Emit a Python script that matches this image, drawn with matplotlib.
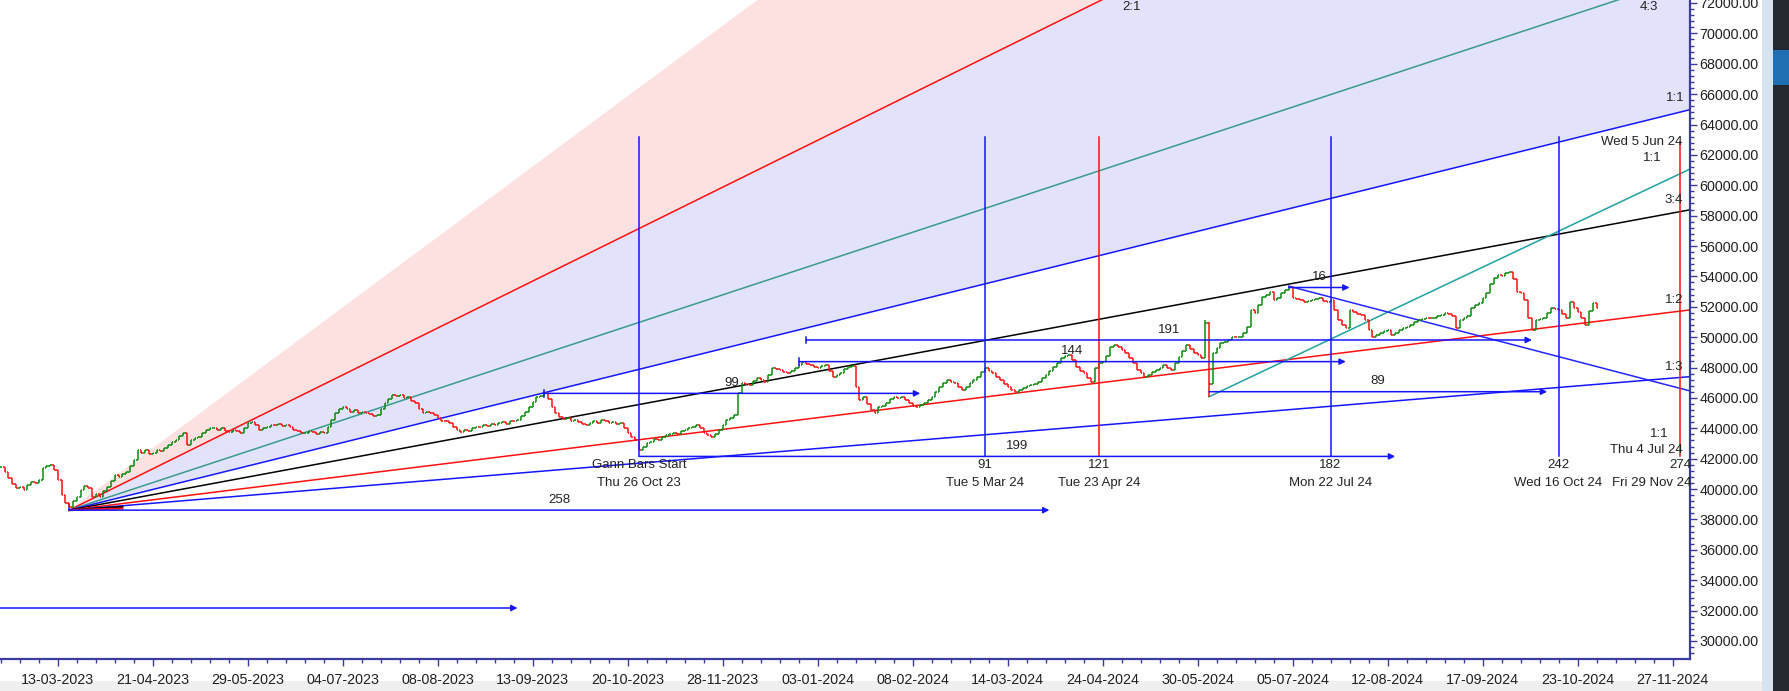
import numpy as np
import matplotlib
matplotlib.use("Agg")
import matplotlib.pyplot as plt
from matplotlib.collections import LineCollection
from matplotlib.patches import Rectangle
from matplotlib.ticker import FixedLocator, MultipleLocator, FuncFormatter

plt.rcParams['font.family'] = ['Liberation Sans', 'DejaVu Sans']

# ---------------- data ----------------
first_bar = -168          # bar index of first close (bar 0 = Thu 26 Oct 23)
closes = [
    41450, 41120, 40750, 40350, 40070, 40150, 39940, 40250, 40470, 40380,
    40600, 41380, 41500, 41580, 41250, 40600, 39610, 39080, 38800, 39200,
    39480, 39940, 40200, 40070, 39480, 39700, 39480, 39850, 40140, 40500,
    40930, 40800, 41000, 41120, 41500, 41910, 42570, 42400, 42570, 42300,
    42370, 42600, 42500, 42700, 42900, 43100, 43230, 43500, 43690, 42900,
    43200, 43360, 43430, 43700, 43900, 44020, 44020, 43900, 44020, 43850,
    43760, 43890, 43800, 43690, 44000, 44350, 44420, 44200, 43890, 44000,
    44100, 44250, 44220, 44300, 44150, 44200, 44090, 43900, 43800, 43690,
    43690, 43850, 43760, 43650, 43760, 43690, 44100, 44550, 45010, 45250,
    45400, 45300, 45100, 45200, 45000, 45100, 45010, 44950, 44800, 44880,
    45300, 45670, 45900, 46190, 46100, 46200, 46000, 46060, 45800, 45670,
    45300, 45010, 45100, 45010, 44900, 44700, 44500, 44450, 44350, 44100,
    43900, 43760, 43900, 43850, 44000, 44100, 44090, 44200, 44150, 44300,
    44250, 44350, 44400, 44300, 44500, 44450, 44550, 44800, 45100, 45400,
    45700, 46060, 46150, 46300, 45900, 45400, 45000, 44750, 44600, 44650,
    44500, 44550, 44400, 44300, 44220, 44350, 44450, 44350, 44550, 44450,
    44350, 44400, 44300, 44350, 44000, 43690, 43400, 43230, 42570, 42800,
    43030, 43100, 43300, 43250, 43430, 43550, 43600, 43690, 43650, 43800,
    43890, 44000, 44100, 44220, 44000, 43690, 43550, 43430, 43600, 43890,
    44200, 44550, 44700, 44880, 46300, 46980, 46900, 46850, 47100, 47310,
    47200, 47050, 47500, 47970, 47900, 47840, 47700, 47640, 47800, 47970,
    48200, 48370, 48250, 48170, 48050, 47970, 48100, 48170, 47800, 47380,
    47500, 47640, 47900, 48040, 48100, 46720, 45860, 46060, 45600, 45210,
    45010, 45400, 45500, 45670, 45900, 46060, 46000, 46060, 45850, 45670,
    45500, 45400, 45550, 45670, 45850, 46060, 46400, 46720, 47000, 47180,
    47050, 46980, 46700, 46520, 46750, 46980, 47200, 47380, 47700, 47970,
    47800, 47640, 47400, 47180, 46950, 46720, 46550, 46390, 46500, 46650,
    46800, 46850, 46950, 47050, 47300, 47510, 47800, 48040, 48300, 48630,
    48750, 48830, 48500, 48040, 47800, 47640, 47300, 47050, 48000, 48300,
    48370, 48770, 49350, 49480, 49370, 49160, 48960, 48600, 48300, 47840,
    47640, 47400, 47510, 47730, 47850, 47970, 48170, 48000, 47840, 48300,
    48710, 49100, 49480, 49200, 48960, 48800, 48630, 50930, 46930, 48960,
    49300, 49620, 49700, 49820, 50030, 50000, 50030, 50300, 50690, 51790,
    51590, 52100, 52660, 52800, 52990, 52440, 52600, 52900, 53100, 53310,
    52570, 52500, 52440, 52330, 52400, 52440, 52500, 52570, 52400, 52330,
    52440, 51790, 51130, 50800, 50600, 51790, 51680, 51550, 51460, 51130,
    50470, 50030, 50150, 50250, 50400, 50470, 50140, 50300, 50470, 50600,
    50690, 50800, 51000, 51130, 51200, 51260, 51250, 51260, 51400, 51460,
    51590, 51500, 51390, 50600, 51130, 51250, 51370, 51920, 52100, 52250,
    52600, 52900, 53500, 53880, 54100, 54000, 54220, 54310, 53800, 52990,
    52900, 52440, 51260, 50470, 51130, 51200, 51260, 51600, 51920, 51850,
    51790, 51500, 51260, 52330, 51900, 51680, 51260, 50800, 51700, 52250,
    51920,
]
# Jun 3 / Jun 4 2024 extreme range (bars 149, 150)
wide_bars = [149, 150]
wide_highs = [51130, 50990]
wide_lows = [48700, 46077]

date_labels = ["13-03-2023", "21-04-2023", "29-05-2023", "04-07-2023", "08-08-2023",
               "13-09-2023", "20-10-2023", "28-11-2023", "03-01-2024", "08-02-2024",
               "14-03-2024", "24-04-2024", "30-05-2024", "05-07-2024", "12-08-2024",
               "17-09-2024", "23-10-2024", "27-11-2024"]
date_label_bars = [-153, -128, -103, -78, -53, -28, -3, 22, 47, 72, 97, 122,
                   147, 172, 197, 222, 247, 272]

# Gann fan from the March 2023 low
fan_origin_bar = -150
fan_origin_price = 38613
fan_unit = 61.8  # price per bar for 1:1
fan_names = ["2:1", "4:3", "1:1", "3:4", "1:2", "1:3"]
fan_mult = [2, 4 / 3, 1, 3 / 4, 1 / 2, 1 / 3]
fan_colors = ["#ff1010", "#3a9a8c", "#1515ff", "#000000", "#ff1010", "#1515ff"]
fan_label_pos = [(129.5, 71720), (265.8, 71720), (272.6, 65750), (272.4, 59030),
                 (272.4, 52450), (272.4, 48040)]
# short stubs of the flattest fan lines near the origin
stub_mult = [1 / 4, 1 / 8]
stub_colors = ["#000000", "#ff1010"]
stub_len = 14

# secondary 1:1 lines
teal_start = (150, 46077)
teal_end = (276.6, 61070)
desc_start = (171, 53357)
desc_end = (276.6, 46460)

# Gann bar count verticals
cycle_bars = [0, 91, 121, 182, 242, 274]
cycle_counts = ["Gann Bars Start", "91", "121", "182", "242", "274"]
cycle_dates = ["Thu 26 Oct 23", "Tue 5 Mar 24", "Tue 23 Apr 24", "Mon 22 Jul 24",
               "Wed 16 Oct 24", "Fri 29 Nov 24"]
cycle_colors = ["#1515ff", "#1515ff", "#ff1010", "#1515ff", "#1515ff", "#ff1010"]
cycle_tops = [63180, 63180, 63180, 63180, 63180, 62850]
cycle_bottom = 42150

# horizontal bar-count arrows: start bar, price, length (bars), label
count_starts = [-150, 0, 44, 42, -25, 171, 150, -200]
count_prices = [38613, 42150, 49815, 48390, 46300, 53270, 46410, 32170]
count_lengths = [258, 199, 191, 144, 99, 16, 89, 168]
count_labels = ["258", "199", "191", "144", "99", "16", "89", ""]

# ---------------- figure ----------------
W, H = 1789, 691
fig = plt.figure(figsize=(W / 100, H / 100), dpi=100)
fig.patch.set_facecolor("white")
ax = fig.add_axes([0, 32 / H, 1690 / W, 659 / H])
ax.set_facecolor("white")

xmin, xmax = -168.2, 276.6
ymin, ymax = 28813, 72197
ax.set_xlim(xmin, xmax)
ax.set_ylim(ymin, ymax)

TXT = "#222222"

# fan fills
fx = np.array([fan_origin_bar, xmax])
def fan_line(m, x=fx):
    return fan_origin_price + (x - fan_origin_bar) * fan_unit * m
ax.fill_between(fx, fan_line(2), fan_line(3), color="#fde0e0", lw=0, zorder=1)
ax.fill_between(fx, fan_line(1), fan_line(2), color="#e2e2fc", lw=0, zorder=1)

for name, m, c, (lx, ly) in zip(fan_names, fan_mult, fan_colors, fan_label_pos):
    ax.plot(fx, fan_line(m), color=c, lw=1.1, zorder=2)
    ax.text(lx, ly, name, ha="center", va="center", fontsize=9.5, color=TXT, zorder=6)

sx = np.array([fan_origin_bar, fan_origin_bar + stub_len])
for m, c in zip(stub_mult, stub_colors):
    ax.plot(sx, fan_line(m, sx), color=c, lw=1.5, zorder=2)
ax.plot([fan_origin_bar, fan_origin_bar], [fan_origin_price, fan_origin_price + 400],
        color="#1515ff", lw=1.1, zorder=2)

ax.plot([teal_start[0], teal_end[0]], [teal_start[1], teal_end[1]], color="#20a0a0", lw=1.1, zorder=2)
ax.plot([desc_start[0], desc_end[0]], [desc_start[1], desc_end[1]], color="#2525ff", lw=1.1, zorder=2)

# OHLC bars (open taken as previous close)
cl = np.array(closes, dtype=float)
op = np.concatenate([[cl[0]], cl[:-1]])
xs = np.arange(first_bar, first_bar + len(cl))
hi = np.maximum(op, cl)
lo = np.minimum(op, cl)
for b, h, l in zip(wide_bars, wide_highs, wide_lows):
    k = b - first_bar
    hi[k] = max(hi[k], h)
    lo[k] = min(lo[k], l)
segs, cols = [], []
tw = 0.45
for x, o, h, l, c in zip(xs, op, hi, lo, cl):
    col = "#0a8a0a" if c >= o else "#ff1010"
    segs += [[(x, l), (x, h)], [(x - tw, o), (x, o)], [(x, c), (x + tw, c)]]
    cols += [col] * 3
ax.add_collection(LineCollection(segs, colors=cols, linewidths=1.1, zorder=3))

# vertical cycle lines with labels
for b, t, d, c, top in zip(cycle_bars, cycle_counts, cycle_dates, cycle_colors, cycle_tops):
    ax.plot([b, b], [cycle_bottom, top], color=c, lw=1.1, zorder=4)
    ax.text(b, 41590, t, ha="center", va="center", fontsize=9.5, color=TXT, zorder=6)
    if b == cycle_bars[-1]:
        # keep the last date just left of the price scale
        ax.text(277.0, 40420, d, ha="right", va="center", fontsize=9.5, color=TXT, zorder=6)
    else:
        ax.text(b, 40420, d, ha="center", va="center", fontsize=9.5, color=TXT, zorder=6)

# horizontal count arrows
for s, p, n, lab in zip(count_starts, count_prices, count_lengths, count_labels):
    e = s + n
    ax.annotate("", xy=(e, p), xytext=(s, p),
                arrowprops=dict(arrowstyle="-|>", color="#1515ff", lw=1.1,
                                shrinkA=0, shrinkB=0, mutation_scale=9),
                zorder=4, annotation_clip=False)
    if lab:
        ax.text((s + e) / 2, p + 680, lab, ha="center", va="center",
                fontsize=9.5, color=TXT, zorder=6)
for s, p in [(44, 49815), (42, 48390), (-25, 46300)]:
    ax.plot([s, s], [p - 220, p + 220], color="#1515ff", lw=1.1, zorder=4)

# side annotations
ax.text(274.7, 62850, "Wed 5 Jun 24", ha="right", va="center", fontsize=9.5, color=TXT, zorder=6)
ax.text(266.8, 61800, "1:1", ha="center", va="center", fontsize=9.5, color=TXT, zorder=6)
ax.text(268.4, 43630, "1:1", ha="center", va="center", fontsize=9.5, color=TXT, zorder=6)
ax.text(274.7, 42570, "Thu 4 Jul 24", ha="right", va="center", fontsize=9.5, color=TXT, zorder=6)

# axes styling
spine_c = "#3c3c9c"
for s in ["left", "top"]:
    ax.spines[s].set_visible(False)
for s in ["right", "bottom"]:
    ax.spines[s].set_color(spine_c)
    ax.spines[s].set_linewidth(1.6)

ax.yaxis.tick_right()
ax.yaxis.set_major_locator(MultipleLocator(2000))
ax.yaxis.set_minor_locator(MultipleLocator(400))
ax.yaxis.set_major_formatter(FuncFormatter(lambda v, p: f"{v:.2f}"))
ax.xaxis.set_major_locator(FixedLocator(date_label_bars))
ax.xaxis.set_minor_locator(MultipleLocator(5, offset=2))
ax.set_xticklabels(date_labels)
ax.tick_params(axis="both", which="major", colors=spine_c, labelcolor="#202020",
               labelsize=10.3, length=5, width=1)
ax.tick_params(axis="both", which="minor", colors=spine_c, length=3, width=1)
ax.tick_params(axis="y", pad=2)
ax.tick_params(axis="x", pad=5)

# surrounding window chrome
fig.add_artist(Rectangle((0, 0), 1762 / W, 10 / H, transform=fig.transFigure,
                         facecolor="#efefef", edgecolor="none", zorder=0))
fig.add_artist(Rectangle((1762 / W, 0), 11 / W, 1, transform=fig.transFigure,
                         facecolor="#d6e3f1", edgecolor="none", zorder=0))
fig.add_artist(Rectangle((1773 / W, 0), 16 / W, 1, transform=fig.transFigure,
                         facecolor="#24282f", edgecolor="none", zorder=0))
fig.add_artist(Rectangle((1773 / W, 1 - 85 / H), 16 / W, 35 / H, transform=fig.transFigure,
                         facecolor="#1f6fb2", edgecolor="none", zorder=1))

fig.savefig("out.png", dpi=100)
